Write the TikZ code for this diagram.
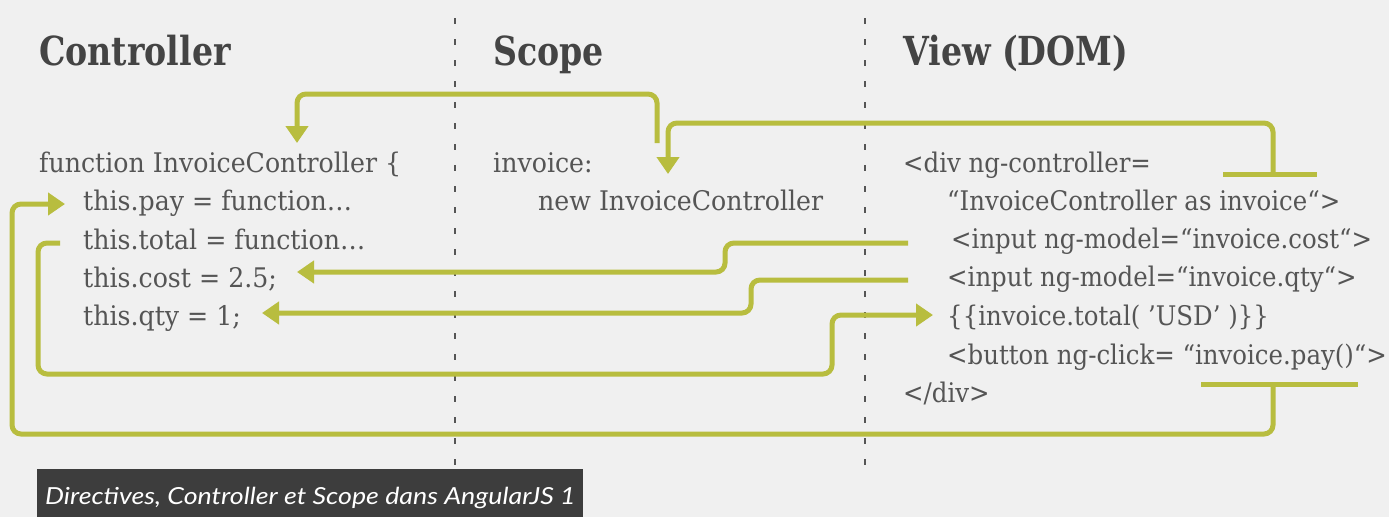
\documentclass[tikz,border=0pt]{standalone}
\usepackage{fontspec}
\setmainfont{DejaVu Serif}[FakeStretch=0.935]
\newfontfamily\viewfont{DejaVu Serif}[FakeStretch=0.905]
\newfontfamily\headfont{DejaVu Serif}[FakeStretch=0.83]
\newfontfamily\capfont{Lato}[FakeStretch=1.14]
\usetikzlibrary{arrows.meta}
\definecolor{bg}{HTML}{F0F0F0}
\definecolor{ink}{HTML}{555555}
\definecolor{headink}{HTML}{444444}
\definecolor{lime}{HTML}{B8BD3F}
\definecolor{capbg}{HTML}{3D3D3D}
\definecolor{divider}{HTML}{555555}
\begin{document}
\begin{tikzpicture}[x=1pt,y=-1pt,
  code/.style={anchor=base west, inner sep=0pt, text=ink, font=\fontsize{27}{30}\selectfont},
  viewcode/.style={code, font=\viewfont\fontsize{27}{30}\selectfont},
  head/.style={anchor=base west, inner sep=0pt, text=headink, font=\headfont\bfseries\fontsize{40}{44}\selectfont},
  link/.style={draw=lime, line width=5pt, rounded corners=9pt},
  bar/.style={draw=lime, line width=5pt},
  tip/.style={-{Triangle[width=22pt,length=17pt]}},
  divide/.style={draw=divider, line width=1.2pt, dash pattern=on 6pt off 15pt},
  capbox/.style={fill=capbg, anchor=north west, inner sep=0pt, minimum width=546pt, minimum height=48pt},
  captext/.style={anchor=base west, inner sep=0pt, text=white, font=\capfont\itshape\fontsize{23.5}{26}\selectfont}
]
\fill[bg] (0,0) rectangle (1389,517);
\useasboundingbox (0,0) rectangle (1389,517);

% dividers
\coordinate (d1t) at (455,18); \coordinate (d1b) at (455,470);
\coordinate (d2t) at (865,18); \coordinate (d2b) at (865,470);
\draw[divide] (d1t) -- (d1b);
\draw[divide] (d2t) -- (d2b);

% headings
\node[head] (hC) at (39,65) {Controller};
\node[head] (hS) at (493,65) {Scope};
\node[head] (hV) at (903,65) {View (DOM)};

% controller code
\node[code] (fn) at (39,172) {function InvoiceController \{};
\node[code] (pay) at (83,210) {this.pay = function…};
\node[code] (total) at (83,249) {this.total = function…};
\node[code] (cost) at (83,287) {this.cost = 2.5;};
\node[code] (qty) at (83,325) {this.qty = 1;};

% scope
\node[code] (s1) at (493,172) {invoice:};
\node[code] (s2) at (538,210) {new InvoiceController};

% view
\node[viewcode] (v1) at (903,172) {<div ng-controller=};
\node[viewcode] (v2) at (947,210) {“InvoiceController as invoice“>};
\node[viewcode] (v3) at (951,248) {<input ng-model=“invoice.cost“>};
\node[viewcode] (v4) at (947,286) {<input ng-model=“invoice.qty“>};
\node[viewcode] (v5) at (947,325) {\{\{invoice.total( ’USD’ )\}\}};
\node[viewcode] (v6) at (947,364) {<button ng-click= “invoice.pay()“>};
\node[viewcode] (v7) at (903,402) {</div>};

% connector endpoints
\coordinate (a1s) at (657,143); \coordinate (a1e) at (297,143);
\coordinate (tA) at (1273,174); \coordinate (a2e) at (668,174);
\coordinate (barAl) at (1223,174); \coordinate (barAr) at (1317,174);
\coordinate (a3s) at (908,243); \coordinate (a3e) at (297,272);
\coordinate (a4s) at (908,280); \coordinate (a4e) at (262,313);
\coordinate (a5s) at (60,243); \coordinate (a5e) at (933,315);
\coordinate (tB) at (1273,384); \coordinate (a6e) at (65,204);
\coordinate (barBl) at (1201,384); \coordinate (barBr) at (1358,384);

% Scope -> Controller
\draw[link, tip] (a1s) -- (a1s |- 0,94) -- (a1e |- 0,94) -- (a1e);
% View ng-controller -> Scope
\draw[bar] (barAl) -- (barAr);
\draw[link, tip] (tA) -- (tA |- 0,123) -- (a2e |- 0,123) -- (a2e);
% cost
\draw[link, tip] (a3s) -- (725,243) -- (725,272) -- (a3e);
% qty
\draw[link, tip] (a4s) -- (751,280) -- (751,313) -- (a4e);
% total
\draw[link, tip] (a5s) -- (38,243) -- (38,374) -- (832,374) -- (832,315) -- (a5e);
% pay
\draw[bar] (barBl) -- (barBr);
\draw[link, tip] (tB) -- (tB |- 0,434) -- (12,434) -- (12,204) -- (a6e);

% caption
\node[capbox] (cap) at (37,469) {};
\node[captext] (capt) at (45,504) {Directives, Controller et Scope dans AngularJS 1};
\end{tikzpicture}
\end{document}
